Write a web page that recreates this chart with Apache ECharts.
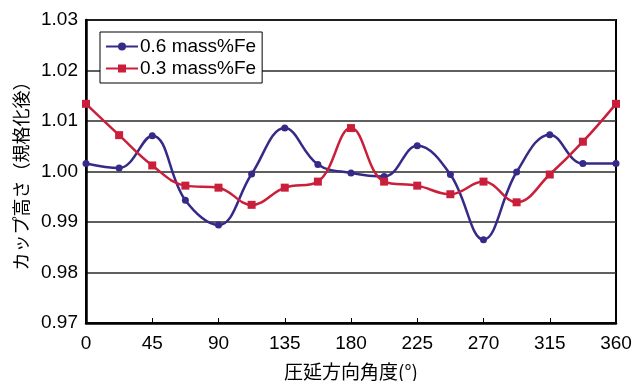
<!DOCTYPE html>
<html><head><meta charset="utf-8">
<script src="https://cdn.jsdelivr.net/npm/echarts@6/dist/echarts.min.js"></script>
<style>html,body{margin:0;padding:0;background:#fff}#c{width:644px;height:381px}</style>
</head><body><div id="c"></div>
<script>
const angles = [0, 22.5, 45, 67.5, 90, 112.5, 135, 157.5, 180, 202.5, 225, 247.5, 270, 292.5, 315, 337.5, 360];
const fe06 = [1.0016, 1.0007, 1.0071, 0.9943, 0.9894, 0.9995, 1.0086, 1.0014, 0.9997, 0.9990, 1.0051, 0.9994, 0.9865, 0.9999, 1.0073, 1.0016, 1.0016];
const fe03 = [1.0134, 1.0072, 1.0012, 0.9972, 0.9968, 0.9934, 0.9968, 0.9980, 1.0086, 0.9980, 0.9972, 0.9955, 0.9980, 0.9939, 0.9994, 1.0059, 1.0134];
const seriesNames = ['0.6 mass%Fe', '0.3 mass%Fe'];
const xTicks = [0, 45, 90, 135, 180, 225, 270, 315, 360];
const yTicks = ['0.97', '0.98', '0.99', '1.00', '1.01', '1.02', '1.03'];

const chart = echarts.init(document.getElementById('c'));
const font = 'Liberation Sans, Arial, sans-serif';
chart.setOption({
  animation: false,
  grid: { left: 86, right: 28, top: 20, bottom: 58, show: true, borderColor: '#000', borderWidth: 2,
    containLabel: false, outerBoundsMode: 'none' },
  legend: {
    left: 100, top: 32, orient: 'vertical',
    backgroundColor: '#fff', borderColor: '#000', borderWidth: 1,
    padding: [5, 6, 5, 5], itemGap: 3, itemWidth: 32, itemHeight: 10,
    textStyle: { fontFamily: font, fontSize: 19, color: '#000', padding: [0, 0, 0, -3] },
    data: seriesNames
  },
  xAxis: {
    type: 'value', min: 0, max: 360, interval: 45,
    name: '圧延方向角度(°)', nameLocation: 'middle', nameGap: 39,
    nameTextStyle: { fontFamily: 'Noto Sans CJK JP', fontSize: 19, color: '#000' },
    axisLine: { lineStyle: { color: '#000', width: 2.5 } },
    axisTick: { inside: true, length: 5, lineStyle: { color: '#000', width: 1 } },
    axisLabel: { fontFamily: font, fontSize: 19, color: '#000', margin: 11 },
    splitLine: { show: false }
  },
  yAxis: {
    type: 'value', min: 0.97, max: 1.03, interval: 0.01,
    name: 'カップ高さ（規格化後）', nameLocation: 'middle', nameGap: 54,
    nameTextStyle: { fontFamily: 'Noto Sans CJK JP', fontSize: 18, color: '#000' },
    axisLine: { show: true, lineStyle: { color: '#000', width: 2.5 } },
    axisTick: { show: false },
    axisLabel: { fontFamily: font, fontSize: 19, color: '#000', margin: 8,
      formatter: v => v.toFixed(2) },
    splitLine: { lineStyle: { color: '#2a2a2a', width: 1.5 } }
  },
  series: [
    { name: seriesNames[0], type: 'line', smooth: 0.4, symbol: 'circle', symbolSize: 7,
      itemStyle: { color: '#362a88' }, lineStyle: { color: '#362a88', width: 2.5 },
      data: angles.map((a, i) => [a, fe06[i]]) },
    { name: seriesNames[1], type: 'line', smooth: 0.4, symbol: 'rect', symbolSize: 8,
      itemStyle: { color: '#c91f3a' }, lineStyle: { color: '#c91f3a', width: 2.5 },
      data: angles.map((a, i) => [a, fe03[i]]) }
  ]
});
</script></body></html>
